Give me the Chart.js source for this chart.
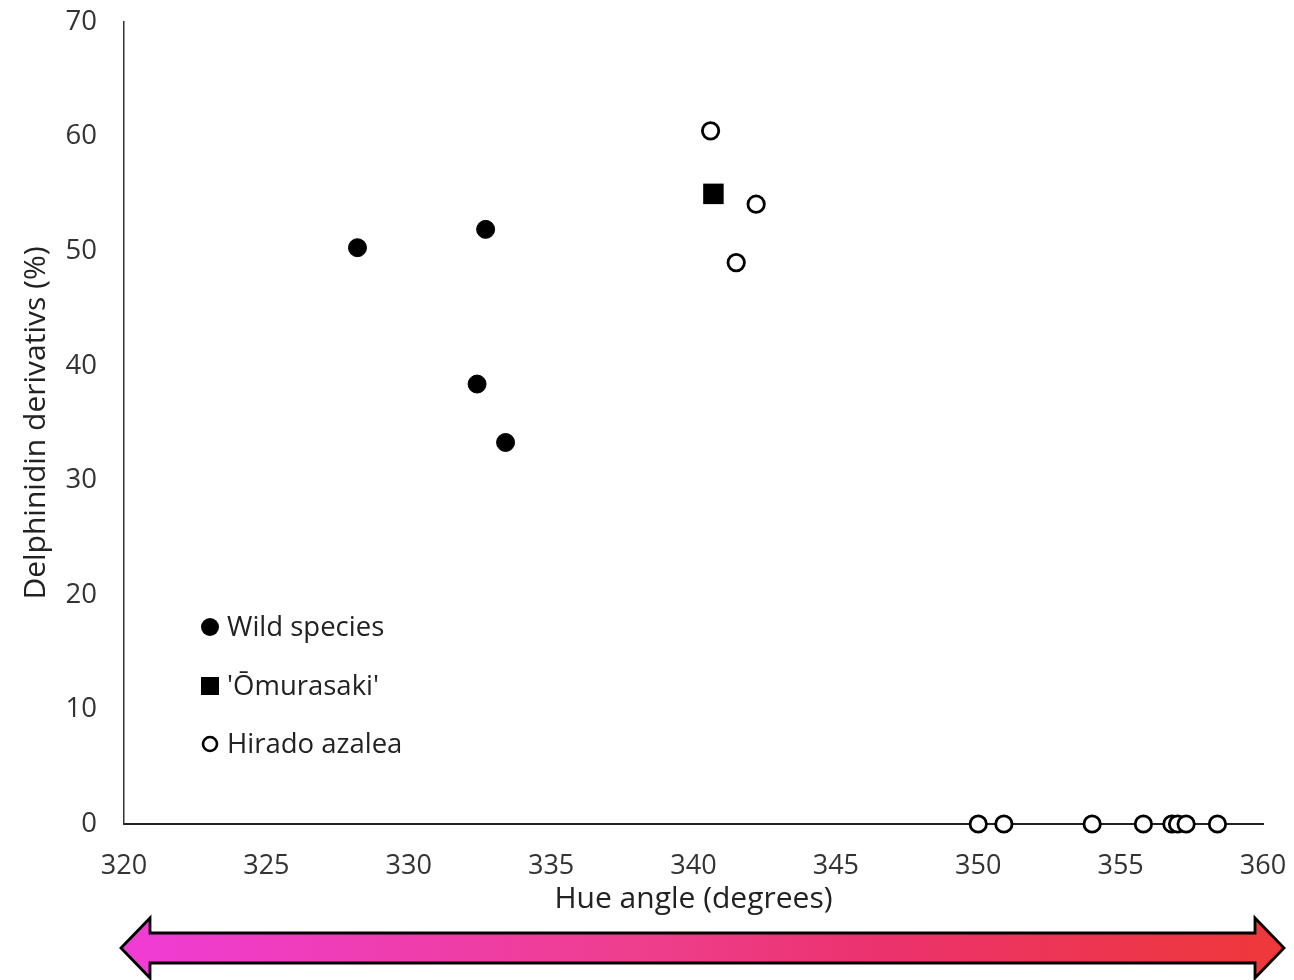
<!DOCTYPE html>
<html>
<head>
<meta charset="utf-8">
<script src="https://cdn.jsdelivr.net/npm/chart.js@4.4.1/dist/chart.umd.min.js"></script>
<style>
  html, body { margin: 0; padding: 0; background: #fff; }
  #wrap { width: 1294px; height: 980px; }
</style>
</head>
<body>
<div id="wrap"><canvas id="chart" width="1294" height="980"></canvas></div>
<script>
// values: hue angle (deg) and delphinidin derivatives (%)
const wildHue = [328.2, 332.7, 332.4, 333.4];
const wildDelph = [50.3, 51.9, 38.4, 33.3];

const omuraHue = [340.7];
const omuraDelph = [55.0];

const hiradoHue = [340.6, 342.2, 341.5, 350.0, 350.9, 354.0, 355.8, 356.8, 357.0, 357.3, 358.4];
const hiradoDelph = [60.5, 54.1, 49.0, 0, 0, 0, 0, 0, 0, 0, 0];

const xTicks = [320, 325, 330, 335, 340, 345, 350, 355, 360];
const yTicks = [0, 10, 20, 30, 40, 50, 60, 70];

const FONT = "'Open Sans', 'Noto Sans', sans-serif";

function pts(xs, ys) {
  var out = [];
  for (var i=0;i<xs.length;i++) out.push({x: xs[i], y: ys[i]});
  return out;
}

// legend drawn inside the plot, lower left
const insideLegend = {
  id: 'insideLegend',
  afterDatasetsDraw(chart) {
    const ctx = chart.ctx;
    const rows = [627, 686, 744];
    ctx.save();
    ctx.font = '27.5px ' + FONT;
    ctx.textBaseline = 'middle';
    chart.data.datasets.forEach(function(ds, i) {
      var y = rows[i], x = 210;
      ctx.lineWidth = 2.6;
      ctx.strokeStyle = '#000';
      ctx.fillStyle = '#000';
      if (ds.pointStyle === 'rect') {
        ctx.fillRect(x - 9, y - 9, 18, 18);
      } else if (ds.backgroundColor === '#fff') {
        ctx.beginPath(); ctx.arc(x, y, 7, 0, Math.PI*2);
        ctx.fillStyle = '#fff'; ctx.fill(); ctx.stroke();
      } else {
        ctx.beginPath(); ctx.arc(x, y, 9, 0, Math.PI*2); ctx.fill();
      }
      ctx.fillStyle = '#222';
      ctx.fillText(ds.label, 227, y + 1);
    });
    ctx.restore();
  }
};

// gradient double-headed arrow under the x axis
const hueArrow = {
  id: 'hueArrow',
  afterDraw(chart) {
    const ctx = chart.ctx;
    const l = 121, r = 1284, cy = 948;
    const hw = 15, hh = 30, hl = 29;
    ctx.save();
    const g = ctx.createLinearGradient(l, 0, r, 0);
    g.addColorStop(0, 'rgb(240,60,214)');
    g.addColorStop(0.45, 'rgb(238,62,140)');
    g.addColorStop(0.65, 'rgb(236,50,110)');
    g.addColorStop(1, 'rgb(238,56,56)');
    ctx.beginPath();
    ctx.moveTo(l, cy);
    ctx.lineTo(l + hl, cy - hh);
    ctx.lineTo(l + hl, cy - hw);
    ctx.lineTo(r - hl, cy - hw);
    ctx.lineTo(r - hl, cy - hh);
    ctx.lineTo(r, cy);
    ctx.lineTo(r - hl, cy + hh);
    ctx.lineTo(r - hl, cy + hw);
    ctx.lineTo(l + hl, cy + hw);
    ctx.lineTo(l + hl, cy + hh);
    ctx.closePath();
    ctx.fillStyle = g;
    ctx.fill();
    ctx.lineWidth = 2.8;
    ctx.strokeStyle = '#000';
    ctx.lineJoin = 'miter';
    ctx.stroke();
    ctx.restore();
  }
};

new Chart(document.getElementById('chart'), {
  type: 'scatter',
  data: {
    datasets: [
      {
        label: 'Wild species',
        data: pts(wildHue, wildDelph),
        pointStyle: 'circle',
        pointRadius: 9,
        backgroundColor: '#000',
        borderColor: '#000',
        borderWidth: 1,
        clip: false,
      },
      {
        label: "'\u014Cmurasaki'",
        data: pts(omuraHue, omuraDelph),
        pointStyle: 'rect',
        pointRadius: 14.5,
        backgroundColor: '#000',
        borderColor: '#000',
        borderWidth: 0,
        clip: false,
      },
      {
        label: 'Hirado azalea',
        data: pts(hiradoHue, hiradoDelph),
        pointStyle: 'circle',
        pointRadius: 8.2,
        backgroundColor: '#fff',
        borderColor: '#000',
        borderWidth: 2.8,
        clip: false,
      }
    ]
  },
  options: {
    responsive: false,
    animation: false,
    maintainAspectRatio: false,
    layout: { padding: { top: 22, right: 31, bottom: 63, left: 18 } },
    plugins: {
      legend: { display: false },
      tooltip: { enabled: false },
    },
    scales: {
      x: {
        type: 'linear',
        min: 320, max: 360,
        afterBuildTicks: function(s) { s.ticks = xTicks.map(function(v){ return {value: v}; }); },
        afterFit: function(s) { s.height = 93; s.paddingLeft = 0; s.paddingRight = 0; },
        grid: { display: false, drawTicks: false },
        border: { display: true, color: '#222', width: 2 },
        ticks: { padding: 26, color: '#333', font: { family: FONT, size: 27 } },
        title: { display: true, text: 'Hue angle (degrees)', color: '#222', padding: { top: 0, bottom: 0 }, font: { family: FONT, size: 30 } },
      },
      y: {
        type: 'linear',
        min: 0, max: 70,
        afterBuildTicks: function(s) { s.ticks = yTicks.map(function(v){ return {value: v}; }); },
        afterFit: function(s) { s.width = 106; s.paddingTop = 0; s.paddingBottom = 0; },
        grid: { display: false, drawTicks: false },
        border: { display: true, color: '#333', width: 1.5 },
        ticks: { padding: 27, color: '#333', font: { family: FONT, size: 27.5 } },
        title: { display: true, text: 'Delphinidin derivativs (%)', color: '#222', padding: { top: 0, bottom: 0 }, font: { family: FONT, size: 30 } },
      }
    }
  },
  plugins: [insideLegend, hueArrow]
});
</script>
</body>
</html>
